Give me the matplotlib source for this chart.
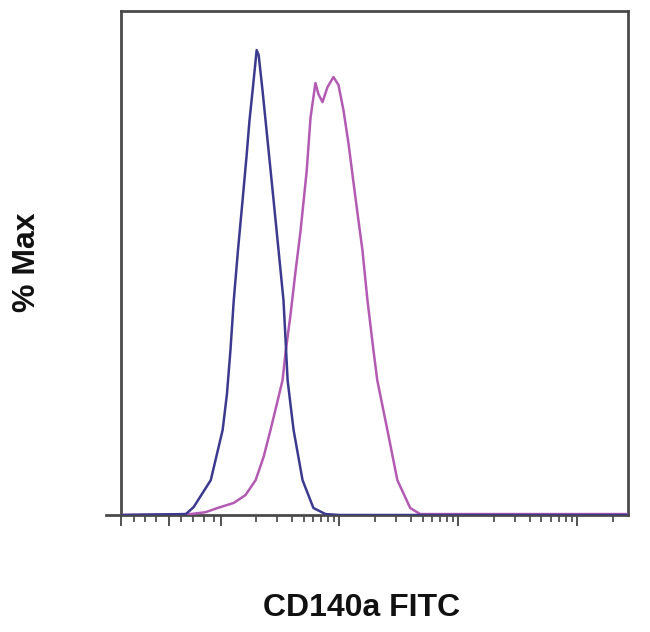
import matplotlib
matplotlib.use("Agg")
import matplotlib.pyplot as plt
from matplotlib.lines import Line2D

# Fluorescence intensity (CD140a FITC) and % of max
blue_x = [-92, 33, 48, 81, 104, 113, 121, 129, 140, 153, 165, 175, 186, 201, 209, 225,
          253, 279, 307, 338, 352, 366, 411, 489, 604, 763, 1000, 268000]
blue_y = [0, 0.2, 1.7, 7.5, 18.3, 26.0, 35.5, 46.2, 57.0, 67.7, 77.0, 84.9, 91.4, 100,
          98.9, 91.4, 78.5, 67.7, 57.0, 46.2, 37.6, 29.0, 18.3, 7.5, 1.5, 0.2, 0, 0]

magenta_x = [-92, 42, 71, 94, 129, 162, 197, 230, 263, 298, 332, 352, 387, 425, 470,
             500, 530, 571, 628, 666, 720, 792, 890, 981, 1080, 1190, 1290, 1400, 1560,
             1720, 1930, 2080, 2530, 3070, 3940, 4780, 268000]
magenta_y = [0, 0.2, 0.6, 1.5, 2.6, 4.3, 7.5, 12.5, 18.3, 24.0, 29.0, 35.0, 43.0, 52.0,
             61.0, 67.7, 74.0, 85.5, 92.9, 90.5, 88.8, 92.0, 94.2, 92.5, 87.1, 80.0,
             73.0, 66.0, 57.0, 46.2, 35.5, 29.0, 18.3, 7.5, 1.5, 0.2, 0.2]

major_ticks = [-92, 0, 1e2, 1e3, 1e4, 1e5]
minor_ticks = [-67, -46, -24, 24, 46, 67, 87] + \
    [m * 10 ** e for e in (2, 3, 4) for m in range(2, 10)] + [2e5]

x_label = "CD140a FITC"
y_label = "% Max"

fig = plt.figure(figsize=(6.5, 6.32), dpi=100)
ax = fig.add_axes([121 / 650, 1 - 515 / 632, (628 - 121) / 650, (515 - 11) / 632])

ax.plot(magenta_x, magenta_y, color="#b35ab3", lw=1.8, zorder=3,
        solid_joinstyle="round")
ax.plot(blue_x, blue_y, color="#3c3a8e", lw=1.8, zorder=4, solid_joinstyle="round")

ax.set_xscale("symlog", linthresh=100, linscale=0.393)
ax.set_xlim(-92, 268000)
ax.set_ylim(0, 108.4)

ax.set_xticks(major_ticks)
ax.set_xticks(minor_ticks, minor=True)
ax.set_xticklabels([])
ax.set_yticks([])
ax.tick_params(axis="x", which="major", direction="out", length=8, width=1.2, color="#333333")
ax.tick_params(axis="x", which="minor", direction="out", length=5, width=1.1, color="#333333")

for s in ax.spines.values():
    s.set_linewidth(2.0)
    s.set_color("#4a4a4a")

ax.add_line(Line2D([-0.03, 0], [0, 0], transform=ax.transAxes, color="#4a4a4a",
                   lw=2.0, clip_on=False))

fig.text(27 / 650, 1 - 262 / 632, y_label, rotation=90, ha="center", va="center",
         fontsize=23, fontweight="bold", family="Liberation Sans", color="#111111")
fig.text(362 / 650, 1 - 608 / 632, x_label, ha="center", va="center",
         fontsize=23, fontweight="bold", family="Liberation Sans", color="#111111")

fig.savefig("out.png", dpi=100, facecolor="white")
